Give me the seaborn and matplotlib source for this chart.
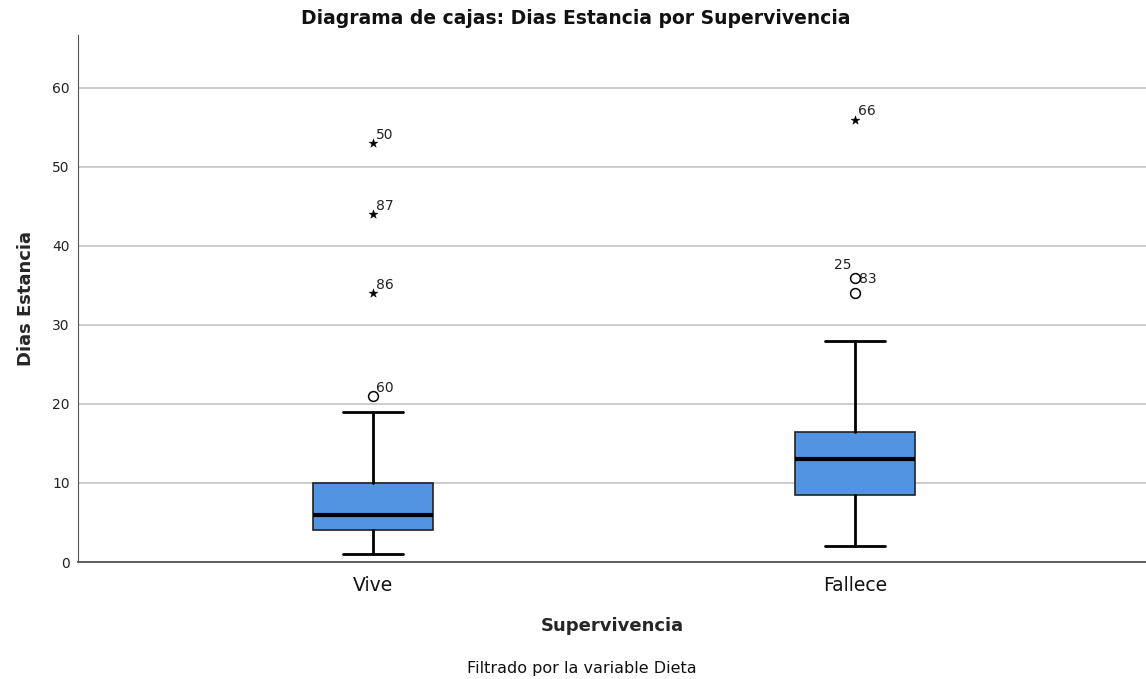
import matplotlib
matplotlib.use("Agg")
import matplotlib.pyplot as plt
import seaborn as sns
import pandas as pd

# grupos y resumen de cinco numeros
grupos = ["Vive", "Fallece"]
whisker_bajo = [1, 2]
q1 = [4, 8.5]
mediana = [6, 13]
q3 = [10, 16.5]
whisker_alto = [19, 28]

# atipicos: grupo, valor, tipo (o = atipico, * = extremo), etiqueta del caso
at_grupo = ["Vive", "Vive", "Vive", "Vive", "Fallece", "Fallece", "Fallece"]
at_valor = [21, 34, 44, 53, 34, 36, 56]
at_tipo = ["o", "*", "*", "*", "o", "o", "*"]
at_caso = ["60", "86", "87", "50", "25", "83", "66"]

sns.set_style("white")
plt.rcParams['font.family'] = ['DejaVu Sans']
plt.rcParams['text.color'] = '#111111'

fig = plt.figure(figsize=(11.46, 6.79), dpi=100)
ax = fig.add_axes([78 / 1146, 1 - 562 / 679, 1 - 78 / 1146, (562 - 35) / 679])

stats = []
for i, g in enumerate(grupos):
    stats.append({'label': g, 'whislo': whisker_bajo[i], 'q1': q1[i], 'med': mediana[i],
                  'q3': q3[i], 'whishi': whisker_alto[i], 'fliers': []})

ax.bxp(stats, positions=[0, 1], widths=0.25, patch_artist=True, showfliers=False,
       boxprops=dict(facecolor='#5294e2', edgecolor='#222222', linewidth=1.2),
       medianprops=dict(color='black', linewidth=3),
       whiskerprops=dict(color='black', linewidth=2),
       capprops=dict(color='black', linewidth=2), capwidths=0.125)

df = pd.DataFrame({'grupo': at_grupo, 'valor': at_valor, 'tipo': at_tipo, 'caso': at_caso})
df['x'] = df['grupo'].map({g: i for i, g in enumerate(grupos)})
circ = df[df['tipo'] == 'o']
est = df[df['tipo'] == '*']
sns.scatterplot(x='x', y='valor', data=circ, ax=ax, marker='o', s=50,
                facecolor='white', edgecolor='black', linewidth=1.1, zorder=5)
sns.scatterplot(x='x', y='valor', data=est, ax=ax, marker='*', s=45,
                color='black', edgecolor='black', linewidth=0.3, zorder=5)

for _, r in df.iterrows():
    if r['caso'] == '25':
        ax.annotate(r['caso'], (r['x'], 36), xytext=(-15, 6), textcoords='offset points',
                    fontsize=10, color='#222222')
    elif r['caso'] == '83':
        ax.annotate(r['caso'], (r['x'], r['valor']), xytext=(3, -4), textcoords='offset points',
                    fontsize=10, color='#222222')
    else:
        ax.annotate(r['caso'], (r['x'], r['valor']), xytext=(2, 3), textcoords='offset points',
                    fontsize=10, color='#222222')

ax.set_xlim(-0.612, 1.604)
ax.set_ylim(0, 66.7)
ax.set_yticks([0, 10, 20, 30, 40, 50, 60])
ax.set_xticks([0, 1])
ax.set_xticklabels(grupos, fontsize=13.5)
ax.tick_params(axis='y', labelsize=10, length=0, pad=6, labelcolor='#222222')
ax.tick_params(axis='x', length=0, pad=10, labelcolor='#111111')
ax.yaxis.grid(True, color='#c8c8c8', linewidth=1.3)
ax.set_axisbelow(True)
for s in ['top', 'right']:
    ax.spines[s].set_visible(False)
ax.spines['left'].set_color('#555555')
ax.spines['bottom'].set_color('#555555')
ax.spines['bottom'].set_linewidth(1.3)

ax.set_ylabel('Dias Estancia', fontsize=13, fontweight='bold', labelpad=12)
ax.set_xlabel('Supervivencia', fontsize=13, fontweight='bold', labelpad=16)
fig.text(576 / 1146, 1 - 18 / 679, 'Diagrama de cajas: Dias Estancia por Supervivencia',
         ha='center', va='center', fontsize=13.5, fontweight='bold')
fig.text(582 / 1146, 1 - 669 / 679, 'Filtrado por la variable Dieta',
         ha='center', va='center', fontsize=11.5)

fig.savefig('out.png', dpi=100)
